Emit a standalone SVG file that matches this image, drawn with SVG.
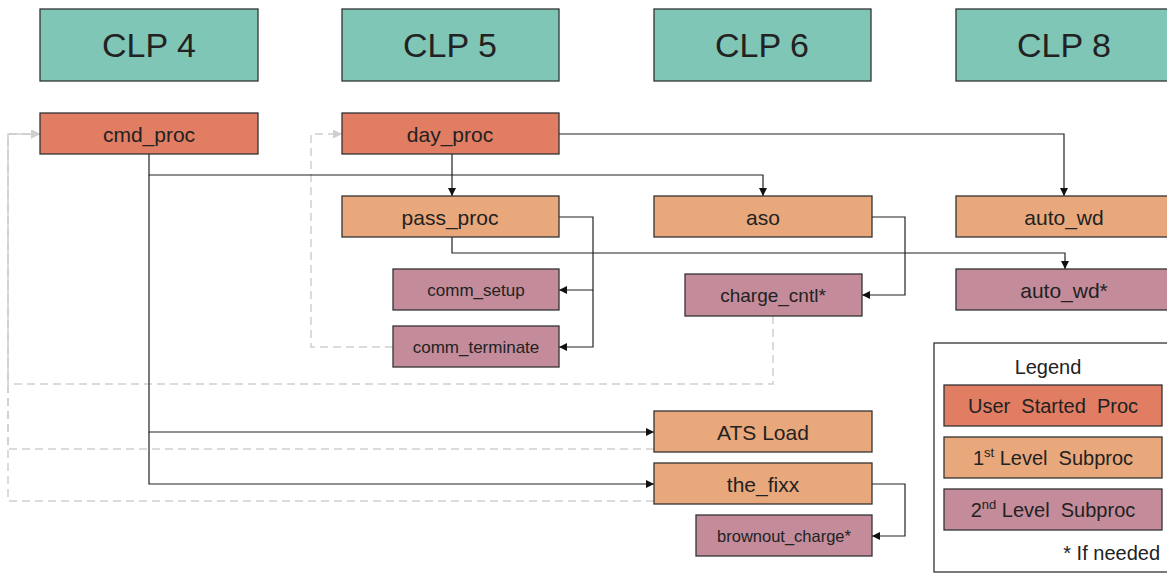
<svg xmlns="http://www.w3.org/2000/svg" width="1167" height="573" viewBox="0 0 1167 573">
<style>
.clp{fill:#80C6B7;stroke:#333;stroke-width:1.3}
.usr{fill:#E07D62;stroke:#333;stroke-width:1.3}
.l1{fill:#E9A87C;stroke:#333;stroke-width:1.3}
.l2{fill:#C48C9B;stroke:#333;stroke-width:1.3}
text{font-family:"Liberation Sans",Arial,sans-serif;fill:#222;text-anchor:middle;dominant-baseline:central}
.t30{font-size:34px}
.t19{font-size:21px}
.t17{font-size:17px}
.t15{font-size:16.5px}
.lg{font-size:20px;white-space:pre}
.c{fill:none;stroke:#222;stroke-width:1.2}
.g{fill:none;stroke:#cfcfcf;stroke-width:1.5;stroke-dasharray:8 5}
</style>
<defs>
<marker id="ah" viewBox="0 0 10 10" refX="10" refY="5" markerWidth="8" markerHeight="8" markerUnits="userSpaceOnUse" orient="auto"><path d="M0,0L10,5L0,10z" fill="#111"/></marker>
<marker id="ag" viewBox="0 0 10 10" refX="10" refY="5" markerWidth="9" markerHeight="9" markerUnits="userSpaceOnUse" orient="auto"><path d="M0,0L10,5L0,10z" fill="#cfcfcf"/></marker>
</defs>
<g id="connectors">
<path class="g" d="M773,316V384H8V134H40" marker-end="url(#ag)"/>
<path class="g" d="M654,449H8V134H40" marker-end="url(#ag)"/>
<path class="g" d="M654,501H8V134H40" marker-end="url(#ag)"/>
<path class="g" d="M393,347H311V134H342" marker-end="url(#ag)"/>
<path class="c" d="M149,154V175H763V196" marker-end="url(#ah)"/>
<path class="c" d="M149,175V432H654" marker-end="url(#ah)"/>
<path class="c" d="M149,432V484H654" marker-end="url(#ah)"/>
<path class="c" d="M452,154V196" marker-end="url(#ah)"/>
<path class="c" d="M559,134H1064V196" marker-end="url(#ah)"/>
<path class="c" d="M559,217H593V290H559" marker-end="url(#ah)"/>
<path class="c" d="M593,290V347H559" marker-end="url(#ah)"/>
<path class="c" d="M452,237V253H1065V269" marker-end="url(#ah)"/>
<path class="c" d="M872,217H905V295H862" marker-end="url(#ah)"/>
<path class="c" d="M872,484H905V536H872" marker-end="url(#ah)"/>
</g>
<g id="clp4"><rect class="clp" x="40" y="9" width="218" height="72"/><text class="t30" x="149" y="45">CLP 4</text></g>
<g id="clp5"><rect class="clp" x="342" y="9" width="217" height="72"/><text class="t30" x="450" y="45">CLP 5</text></g>
<g id="clp6"><rect class="clp" x="654" y="9" width="217" height="72"/><text class="t30" x="762" y="45">CLP 6</text></g>
<g id="clp8"><rect class="clp" x="956" y="9" width="220" height="72"/><text class="t30" x="1064" y="45">CLP 8</text></g>
<g id="cmd_proc"><rect class="usr" x="40" y="113" width="218" height="41"/><text class="t19" x="149" y="134">cmd_proc</text></g>
<g id="day_proc"><rect class="usr" x="342" y="113" width="217" height="41"/><text class="t19" x="450" y="134">day_proc</text></g>
<g id="pass_proc"><rect class="l1" x="342" y="196" width="217" height="41"/><text class="t19" x="450" y="217">pass_proc</text></g>
<g id="aso"><rect class="l1" x="654" y="196" width="218" height="41"/><text class="t19" x="763" y="217">aso</text></g>
<g id="auto_wd"><rect class="l1" x="956" y="196" width="220" height="41"/><text class="t19" x="1064" y="217">auto_wd</text></g>
<g id="comm_setup"><rect class="l2" x="393" y="269" width="166" height="41"/><text class="t17" x="476" y="290">comm_setup</text></g>
<g id="comm_terminate"><rect class="l2" x="393" y="326" width="166" height="41"/><text class="t17" x="476" y="347">comm_terminate</text></g>
<g id="charge_cntl"><rect class="l2" x="685" y="274" width="177" height="42"/><text x="773" y="295" style="font-size:19px">charge_cntl*</text></g>
<g id="auto_wd2"><rect class="l2" x="956" y="269" width="220" height="41"/><text class="t19" x="1064" y="290">auto_wd*</text></g>
<g id="ats_load"><rect class="l1" x="654" y="411" width="218" height="41"/><text class="t19" x="763" y="432">ATS Load</text></g>
<g id="the_fixx"><rect class="l1" x="654" y="463" width="218" height="41"/><text class="t19" x="763" y="484">the_fixx</text></g>
<g id="brownout_charge"><rect class="l2" x="696" y="515" width="176" height="41"/><text class="t15" x="784" y="536">brownout_charge*</text></g>
<g id="legend">
<rect x="934" y="343" width="240" height="229" fill="#fff" stroke="#333" stroke-width="1.3"/>
<text class="lg" x="1048" y="367">Legend</text>
<rect class="usr" x="944" y="385" width="218" height="41"/><text class="lg" x="1053" y="406">User  Started  Proc</text>
<rect class="l1" x="944" y="437" width="218" height="41"/><text class="lg" x="1053" y="458">1<tspan font-size="13" dy="-6">st</tspan><tspan dy="6"> Level  Subproc</tspan></text>
<rect class="l2" x="944" y="489" width="218" height="41"/><text class="lg" x="1053" y="510">2<tspan font-size="13" dy="-6">nd</tspan><tspan dy="6"> Level  Subproc</tspan></text>
<text class="lg" x="1160" y="553" style="text-anchor:end">* If needed</text>
</g>
</svg>
